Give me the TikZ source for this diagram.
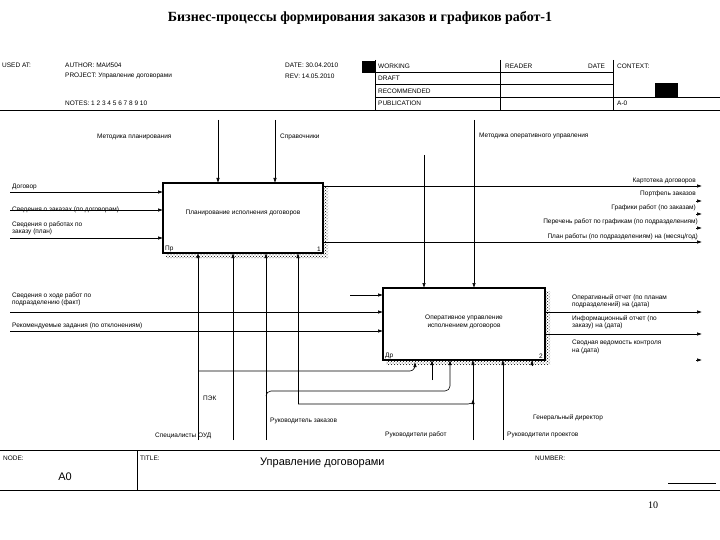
\documentclass[tikz,border=0pt]{standalone}
\usepackage{fontspec}
\setmainfont{Liberation Sans}
\newfontfamily\titlefont{Liberation Serif}
\usetikzlibrary{arrows.meta,patterns}
\begin{document}
\begin{tikzpicture}[x=1pt,y=-1pt,
  lbl/.style={font=\fontsize{6.5}{7.2}\selectfont,inner sep=0pt,align=left},
  rlbl/.style={font=\fontsize{6.5}{7.2}\selectfont,inner sep=0pt,align=right},
  fr/.style={line width=0.6pt},
  arr/.style={line width=0.6pt,-{Latex[length=5pt,width=3.5pt]}},
  proc/.style={draw,line width=1.4pt,fill=white,inner sep=0pt}]
\useasboundingbox (0,0) rectangle (720,540);
\fill[white] (0,0) rectangle (720,540);
\node[font=\titlefont\bfseries\fontsize{14}{16}\selectfont] (title) at (360,18) {Бизнес-процессы формирования заказов и графиков работ-1};
% header
\draw[fr] (375,60)--(375,110) (500,60)--(500,110) (613,60)--(613,110);
\draw[fr] (375,72)--(613,72) (375,84)--(613,84) (375,97)--(720,97);
\draw[fr] (0,110)--(720,110);
\fill (362,61) rectangle (375,73);
\fill (655,83) rectangle (678,97);
\node[lbl,anchor=west] (h1) at (2,65) {USED AT:};
\node[lbl,anchor=west] (h2) at (65,65) {AUTHOR: МАИ504};
\node[lbl,anchor=west] (h3) at (65,76) {PROJECT: Управление договорами};
\node[lbl,anchor=west] (h4) at (65,103) {NOTES: 1 2 3 4 5 6 7 8 9 10};
\node[lbl,anchor=west] (h5) at (285,65) {DATE: 30.04.2010};
\node[lbl,anchor=west] (h6) at (285,76) {REV: 14.05.2010};
\node[lbl,anchor=west] (h7) at (378,66) {WORKING};
\node[lbl,anchor=west] (h8) at (378,78) {DRAFT};
\node[lbl,anchor=west] (h9) at (378,91) {RECOMMENDED};
\node[lbl,anchor=west] (h10) at (378,103) {PUBLICATION};
\node[lbl,anchor=west] (h11) at (505,66) {READER};
\node[lbl,anchor=west] (h12) at (588,66) {DATE};
\node[lbl,anchor=west] (h13) at (617,66) {CONTEXT:};
\node[lbl,anchor=west] (h14) at (617,103) {A-0};
% boxes with shadow
\fill[pattern=crosshatch dots] (323,186) rectangle (328,258) (166,253) rectangle (328,258);
\fill[pattern=crosshatch dots] (545,291) rectangle (550,365) (386,360) rectangle (550,365);
\node[proc,minimum width=160pt,minimum height=70pt] (b1) at (243,218) {};
\node[lbl] (b1t) at (243,213) {Планирование исполнения договоров};
\node[lbl,anchor=south west] (b1a) at (165,252) {Пр};
\node[lbl,anchor=south east] (b1b) at (321,252) {1};
\node[proc,minimum width=162pt,minimum height=72pt] (b2) at (464,324) {};
\node[lbl,align=center] (b2t) at (464,322) {Оперативное управление\\исполнением договоров};
\node[lbl,anchor=south west] (b2a) at (385,359) {Др};
\node[lbl,anchor=south east] (b2b) at (543,359) {2};
% controls
\coordinate (c1) at (218,120); \coordinate (c2) at (275,120);
\coordinate (c3) at (474,120); \coordinate (c4) at (424,155);
\draw[arr] (c1)--(218,183);
\draw[arr] (c2)--(275,183);
\draw[arr] (c3)--(474,288);
\draw[arr] (c4)--(424,288);
\node[lbl,anchor=west] (l1) at (97,137) {Методика планирования};
\node[lbl,anchor=west] (l2) at (280,137) {Справочники};
\node[lbl,anchor=west] (l3) at (479,136) {Методика оперативного управления};
% box1 inputs
\coordinate (i1) at (10,192); \coordinate (i2) at (10,210); \coordinate (i3) at (10,238);
\draw[arr] (i1)--(163,192);
\draw[arr] (i2)--(163,210);
\draw[arr] (i3)--(163,238);
\node[lbl,anchor=west] (l4) at (12,187) {Договор};
\node[lbl,anchor=west] (l5) at (12,210) {Сведения о заказах (по договорам)};
\node[lbl,anchor=west] (l6) at (12,228) {Сведения о работах по\\заказу (план)};
% box1 outputs
\coordinate (o1) at (702,186); \coordinate (o5) at (702,242);
\draw[arr] (323,186)--(o1);
\draw[arr] (323,242)--(o5);
\foreach \y in {199,212,226} \draw[arr] (696,\y+2)--(702,\y+2);
\node[rlbl,anchor=east] (l7) at (696,181) {Картотека договоров};
\node[rlbl,anchor=east] (l8) at (696,194) {Портфель заказов};
\node[rlbl,anchor=east] (l9) at (696,208) {Графики работ (по заказам)};
\node[rlbl,anchor=east] (l10) at (698,222) {Перечень работ по графикам (по подразделениям)};
\node[rlbl,anchor=east] (l11) at (698,237) {План работы (по подразделениям) на (месяц/год)};
% box2 inputs
\coordinate (j1) at (350,295); \coordinate (j2) at (10,312); \coordinate (j3) at (10,331);
\draw[arr] (j1)--(383,295);
\draw[arr] (j2)--(383,312);
\draw[arr] (j3)--(383,331);
\node[lbl,anchor=west] (l12) at (12,299) {Сведения о ходе работ по\\подразделению (факт)};
\node[lbl,anchor=west] (l13) at (12,326) {Рекомендуемые задания (по отклонениям)};
% box2 outputs
\coordinate (p1) at (702,312); \coordinate (p2) at (702,334); \coordinate (p3) at (702,360);
\draw[arr] (545,312)--(p1);
\draw[arr] (545,334)--(p2);
\draw[arr] (696,360)--(p3);
\node[lbl,anchor=west] (l14) at (572,301) {Оперативный отчет (по планам\\подразделений) на (дата)};
\node[lbl,anchor=west] (l15) at (572,322) {Информационный отчет (по\\заказу) на (дата)};
\node[lbl,anchor=west] (l16) at (572,347) {Сводная ведомость контроля\\на (дата)};
% mechanisms box1
\coordinate (m1) at (198,440); \coordinate (m2) at (233,440); \coordinate (m3) at (266,440); \coordinate (m4) at (298,404);
\draw[arr] (m1)--(198,253);
\draw[arr] (m2)--(233,253);
\draw[arr] (m3)--(266,253);
\draw[arr] (m4)--(298,253);
% mechanisms box2
\draw[arr] (198,371)--(410,371) to[out=0,in=-90] (415,362);
\draw[arr] (432,380)--(432,360);
\draw[arr] (266,396) to[out=90,in=180] (271,391)--(445,391) to[out=0,in=-90] (450,386)--(450,360);
\draw[arr] (298,404)--(468,404) to[out=0,in=-90] (473,399);
\coordinate (m5) at (473,440); \coordinate (m6) at (503,440);
\draw[arr] (m5)--(473,360);
\draw[arr] (m6)--(503,360);
\draw[arr] (532,366)--(532,360);
\node[lbl,anchor=west] (l17) at (155,436) {Специалисты ОУД};
\node[lbl,anchor=west] (l18) at (203,398) {ПЭК};
\node[lbl,anchor=west] (l19) at (270,421) {Руководитель заказов};
\node[lbl,anchor=west] (l20) at (385,435) {Руководители работ};
\node[lbl,anchor=west] (l21) at (507,435) {Руководители проектов};
\node[lbl,anchor=west] (l22) at (533,418) {Генеральный директор};
% footer
\draw[fr] (0,450)--(720,450) (0,490)--(720,490) (137,450)--(137,490) (668,483)--(716,483);
\node[lbl,anchor=west] (f1) at (3,458) {NODE:};
\node[font=\fontsize{11}{12}\selectfont,inner sep=0pt] (f2) at (65,477) {A0};
\node[lbl,anchor=west] (f3) at (140,458) {TITLE:};
\node[font=\fontsize{11}{12}\selectfont,inner sep=0pt,anchor=west] (f4) at (260,463) {Управление договорами};
\node[lbl,anchor=west] (f5) at (535,458) {NUMBER:};
\node[font=\titlefont\fontsize{10}{12}\selectfont,inner sep=0pt] (f6) at (653,505) {10};
\end{tikzpicture}
\end{document}
